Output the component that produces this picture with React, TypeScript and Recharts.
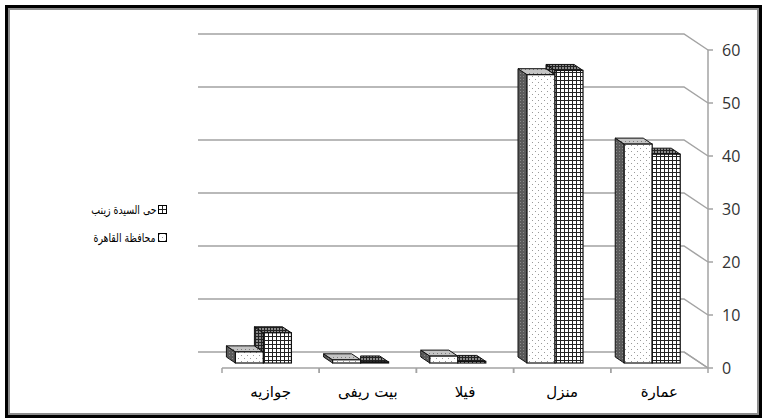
import React from "react";
import { Bar, BarChart, CartesianGrid, Legend, ReferenceLine, XAxis, YAxis } from "recharts";

const categories = ["عمارة", "منزل", "فيلا", "بيت ريفى", "جوازيه"];
const cairoValues = [41.3, 54.4, 1.3, 0.6, 2.1];
const zeinabValues = [39.4, 55.2, 0.3, 0.2, 5.7];
const yTicks = [0, 10, 20, 30, 40, 50, 60];
const cairoName = "محافظة القاهرة";
const zeinabName = "حى السيدة زينب";

const data = categories.map((name, i) => ({
  name,
  cairo: cairoValues[i],
  zeinab: zeinabValues[i],
}));

// 3d look: floor depth, bar inset from front edge, bar depth
const DX = 24;
const DY = 16;
const FX = 7;
const FY = 5;
const BX = 9;
const BY = 6;

const GRID = "#a3a3a3";
const EDGE = "#111";
const ARABIC = "DejaVu Sans, sans-serif";

function Patterns() {
  return (
    <defs>
      <pattern id="dots" width="6" height="6" patternUnits="userSpaceOnUse">
        <rect width="6" height="6" fill="#fff" />
        <rect x="1" y="1" width="1" height="1" fill="#9a9a9a" />
        <rect x="4" y="4" width="1" height="1" fill="#9a9a9a" />
      </pattern>
      <pattern id="dotsTop" width="4" height="4" patternUnits="userSpaceOnUse">
        <rect width="4" height="4" fill="#c4c4c4" />
        <rect x="1" y="1" width="1" height="1" fill="#7a7a7a" />
      </pattern>
      <pattern id="dotsSide" width="3" height="3" patternUnits="userSpaceOnUse">
        <rect width="3" height="3" fill="#5a5a5a" />
        <rect x="1" y="1" width="1" height="1" fill="#8a8a8a" />
      </pattern>
      <pattern id="grid" width="4" height="4" patternUnits="userSpaceOnUse">
        <rect width="4" height="4" fill="#fff" />
        <path d="M0,0.5H4M0.5,0V4" stroke="#222" strokeWidth="1" />
      </pattern>
      <pattern id="gridDark" width="3" height="3" patternUnits="userSpaceOnUse">
        <rect width="3" height="3" fill="#8a8a8a" />
        <path d="M0,0.5H3M0.5,0V3" stroke="#222" strokeWidth="1" />
      </pattern>
    </defs>
  );
}

function CairoBar(props: any) {
  const { x, y, width, height } = props;
  if (x == null || !width) return null;
  const fx = x - FX;
  const fy = y - FY;
  const top = `${fx},${fy} ${fx + width},${fy} ${fx + width - BX},${fy - BY} ${fx - BX},${fy - BY}`;
  const side = `${fx},${fy} ${fx - BX},${fy - BY} ${fx - BX},${fy + height - BY} ${fx},${fy + height}`;
  return (
    <g>
      <polygon points={side} fill="url(#dotsSide)" stroke={EDGE} strokeWidth={1} />
      <polygon points={top} fill="url(#dotsTop)" stroke={EDGE} strokeWidth={1} />
      <rect x={fx} y={fy} width={width} height={height} fill="url(#dots)" stroke={EDGE} strokeWidth={1.2} />
    </g>
  );
}

function ZeinabBar(props: any) {
  const { x, y, width, height, payload } = props;
  if (x == null || !width) return null;
  const fx = x - FX;
  const fy = y - FY;
  // the cairo bar stands right in front-left of this one
  const hd = payload.zeinab > 0 ? (height * payload.cairo) / payload.zeinab : 0;
  let top: string;
  let side: string | null = null;
  if (hd < height) {
    const yd = fy + height - hd;
    top = `${fx},${fy} ${fx + width},${fy} ${fx + width - BX},${fy - BY} ${fx - BX},${fy - BY}`;
    side = `${fx},${fy} ${fx - BX},${fy - BY} ${fx - BX},${yd - BY} ${fx},${yd}`;
  } else {
    top = `${fx},${fy} ${fx + width},${fy} ${fx + width - BX},${fy - BY} ${fx},${fy - BY}`;
  }
  return (
    <g>
      {side && <polygon points={side} fill="url(#gridDark)" stroke={EDGE} strokeWidth={1} />}
      <polygon points={top} fill="url(#gridDark)" stroke={EDGE} strokeWidth={1} />
      <rect x={fx} y={fy} width={width} height={height} fill="url(#grid)" stroke={EDGE} strokeWidth={1.2} />
    </g>
  );
}

function wallLine(props: any) {
  const { x1, x2, y1, index } = props;
  const d = `M${x1 - DX},${y1 - DY} L${x2 - DX},${y1 - DY} L${x2},${y1}`;
  return <path key={`wall-${index}`} d={d} stroke={GRID} strokeWidth={1.5} fill="none" />;
}

function floorEdge(props: any) {
  const { x1, y1 } = props;
  return <path d={`M${x1 - DX},${y1 - DY} L${x1},${y1}`} stroke={GRID} strokeWidth={1.5} fill="none" />;
}

function CategoryTick(props: any) {
  const { x, y, payload } = props;
  const half = payload && payload.offset ? payload.offset : 48.6;
  return (
    <g>
      <line x1={x - half} y1={y} x2={x - half} y2={y + 5} stroke={GRID} strokeWidth={1.5} />
      <line x1={x + half} y1={y} x2={x + half} y2={y + 5} stroke={GRID} strokeWidth={1.5} />
      <text x={x} y={y + 29} textAnchor="middle" fontSize={15} fontFamily={ARABIC} fill="#000">
        {payload.value}
      </text>
    </g>
  );
}

function LegendBox() {
  const rows = [
    { name: zeinabName, fill: "url(#grid)" },
    { name: cairoName, fill: "url(#dots)" },
  ];
  return (
    <div style={{ direction: "rtl", fontFamily: ARABIC, fontSize: 12, color: "#000", whiteSpace: "nowrap" }}>
      {rows.map((r) => (
        <div key={r.name} style={{ display: "flex", alignItems: "center", height: 28 }}>
          <svg width={10} height={10} style={{ marginLeft: 2 }}>
            <rect x={0.5} y={0.5} width={8} height={8} fill={r.fill} stroke="#000" strokeWidth={1} />
          </svg>
          <span style={{ display: "inline-block", transform: "scaleX(0.78)", transformOrigin: "right center" }}>
            {r.name}
          </span>
        </div>
      ))}
    </div>
  );
}

export default function App() {
  return (
    <div style={{ position: "absolute", left: 0, top: 0, width: 764, height: 418, background: "#fff" }}>
      <div
        style={{
          position: "absolute",
          left: 5,
          top: 5,
          width: 757,
          height: 413,
          boxSizing: "border-box",
          border: "3px solid #000",
        }}
      >
        <div style={{ position: "absolute", inset: 0, border: "2px solid #8c8c8c" }} />
      </div>
      <div style={{ position: "absolute", left: 0, top: 0 }}>
        <BarChart
          width={764}
          height={418}
          data={data}
          margin={{ top: 50, right: 0, bottom: 20, left: 222 }}
          barCategoryGap="21%"
          barGap={0}
        >
          <Patterns />
          <CartesianGrid vertical={false} horizontal={wallLine} />
          <XAxis
            dataKey="name"
            reversed
            height={30}
            axisLine={{ stroke: GRID, strokeWidth: 1.5 }}
            tickLine={false}
            tickSize={0}
            tickMargin={0}
            tick={<CategoryTick />}
            interval={0}
          />
          <YAxis
            orientation="right"
            width={56}
            domain={[0, 60]}
            ticks={yTicks}
            axisLine={{ stroke: GRID, strokeWidth: 1.5 }}
            tickLine={{ stroke: GRID, strokeWidth: 1.5 }}
            tickSize={5}
            tickMargin={9}
            tick={{ fill: "#333", fontSize: 16, fontFamily: "Open Sans, sans-serif" }}
          />
          <ReferenceLine y={0} shape={floorEdge} />
          <Bar dataKey="cairo" name={cairoName} shape={<CairoBar />} isAnimationActive={false} />
          <Bar dataKey="zeinab" name={zeinabName} shape={<ZeinabBar />} isAnimationActive={false} />
          <Legend
            layout="vertical"
            align="center"
            verticalAlign="middle"
            content={<LegendBox />}
            wrapperStyle={{ left: 50, top: 196, width: 118 }}
          />
        </BarChart>
      </div>
    </div>
  );
}
